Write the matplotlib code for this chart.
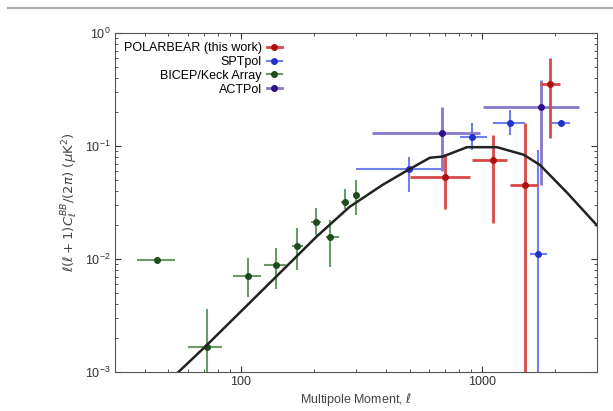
import matplotlib
matplotlib.use('Agg')
import matplotlib.pyplot as plt
from matplotlib.lines import Line2D
from matplotlib.ticker import FuncFormatter
import numpy as np

plt.rcParams['font.family'] = ['Liberation Sans', 'DejaVu Sans']
plt.rcParams['mathtext.fontset'] = 'dejavusans'

# BICEP/Keck Array
ell_bk = [45, 72, 107, 140, 171, 205, 235, 269, 301]
ell_bk_lo = [37, 60, 93, 125, 162, 196, 226, 260, 292]
ell_bk_hi = [53, 83, 121, 154, 180, 214, 256, 278, 310]
bb_bk = [0.0099, 0.00168, 0.0071, 0.0089, 0.0131, 0.0214, 0.0157, 0.0322, 0.037]
bb_bk_lo = [0.0094, 0.0001, 0.0046, 0.0054, 0.0080, 0.0164, 0.0085, 0.0275, 0.0248]
bb_bk_hi = [0.0104, 0.0036, 0.0103, 0.0126, 0.0188, 0.0281, 0.0223, 0.042, 0.0503]

# SPTpol
ell_spt = [496, 908, 1309, 1711, 2135]
ell_spt_lo = [301, 809, 1111, 1581, 1918]
ell_spt_hi = [681, 1048, 1512, 1866, 2325]
bb_spt = [0.063, 0.121, 0.16, 0.0111, 0.16]
bb_spt_lo = [0.0394, 0.093, 0.126, 0.0001, 0.15]
bb_spt_hi = [0.0806, 0.16, 0.21, 0.093, 0.17]

# ACTPol
ell_act = [681, 1757]
ell_act_lo = [348, 1010]
ell_act_hi = [983, 2513]
bb_act = [0.131, 0.223]
bb_act_lo = [0.06, 0.045]
bb_act_hi = [0.223, 0.386]

# POLARBEAR
ell_pb = [700, 1111, 1512, 1919]
ell_pb_lo = [501, 908, 1309, 1741]
ell_pb_hi = [892, 1266, 1711, 2107]
bb_pb = [0.0536, 0.0756, 0.0455, 0.356]
bb_pb_lo = [0.028, 0.021, 0.0001, 0.118]
bb_pb_hi = [0.085, 0.126, 0.16, 0.605]

# lensing B-mode model
ell_model = [55, 71.5, 140, 205, 282, 387, 496, 607, 688, 866, 1152, 1489, 1741, 2259, 3030]
bb_model = [0.001, 0.0017, 0.0070, 0.0157, 0.029, 0.0455, 0.062, 0.079, 0.081,
            0.098, 0.098, 0.084, 0.068, 0.0385, 0.0194]

fig = plt.figure(figsize=(6.13, 4.11), dpi=100)
ax = fig.add_axes([0.1876, 0.0949, 0.7864, 0.8241])

def draw(ell, lo, hi, bb, blo, bhi, color, ecolor, lw, label, z):
    ell = np.array(ell); bb = np.array(bb)
    xerr = [ell - np.array(lo), np.array(hi) - ell]
    yerr = [bb - np.array(blo), np.array(bhi) - bb]
    ax.errorbar(ell, bb, xerr=xerr, yerr=yerr, fmt='o', color=color, ecolor=ecolor,
                ms=4, elinewidth=lw, capsize=0, zorder=z)
    return Line2D([], [], color=ecolor, lw=lw, marker='o', ms=4, mfc=color,
                  mec=color, label=label)

h_pb = draw(ell_pb, ell_pb_lo, ell_pb_hi, bb_pb, bb_pb_lo, bb_pb_hi,
            '#b01010', '#d84848', 2, 'POLARBEAR (this work)', 4)
h_spt = draw(ell_spt, ell_spt_lo, ell_spt_hi, bb_spt, bb_spt_lo, bb_spt_hi,
             '#2233cc', '#7080ee', 1.5, 'SPTpol', 3)
h_bk = draw(ell_bk, ell_bk_lo, ell_bk_hi, bb_bk, bb_bk_lo, bb_bk_hi,
            '#1d4d1d', '#6a9a6a', 1.5, 'BICEP/Keck Array', 3)
h_act = draw(ell_act, ell_act_lo, ell_act_hi, bb_act, bb_act_lo, bb_act_hi,
             '#30108a', '#8878cc', 2, 'ACTPol', 3)

ax.plot(ell_model, bb_model, color='#222222', lw=1.8, zorder=5)

ax.set_xscale('log')
ax.set_yscale('log')
ax.set_xlim(30, 3000)
ax.set_ylim(1e-3, 1)
ax.xaxis.set_major_formatter(FuncFormatter(lambda v, p: '%d' % v))
ax.tick_params(which='both', direction='in', top=True, right=True, labelsize=9,
               colors='#333333')
ax.tick_params(which='major', length=4, pad=3)
ax.tick_params(which='minor', length=2)
for s in ax.spines.values():
    s.set_color('#555555')

ax.set_xlabel(r'Multipole Moment, $\ell$', fontsize=9, color='#444444', labelpad=2)
ax.set_ylabel(r'$\ell(\ell+1)C_\ell^{BB}/(2\pi)\ (\mu{\rm K}^2)$', fontsize=9.5,
              color='#444444')

ax.legend(handles=[h_pb, h_spt, h_bk, h_act], loc='upper left', markerfirst=False,
          frameon=False, fontsize=9, handlelength=1.2, handletextpad=0.4,
          labelspacing=0.15, borderaxespad=0.3)

fig.add_artist(Line2D([8 / 613, 1], [1 - 8 / 411, 1 - 8 / 411], color='#aaaaaa', lw=1.5))

fig.savefig('out.png', dpi=100)
